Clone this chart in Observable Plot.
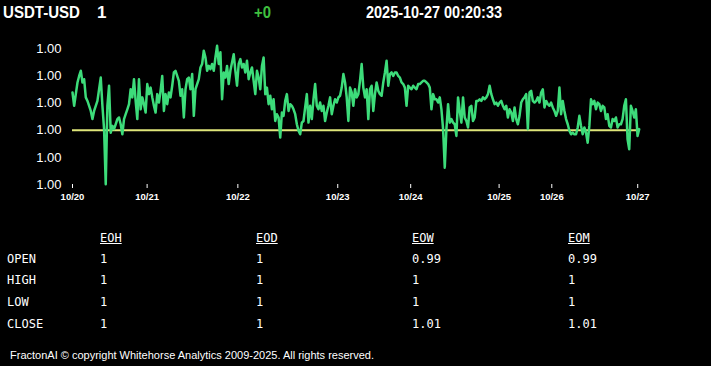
<!DOCTYPE html>
<html><head><meta charset="utf-8">
<script src="https://cdn.jsdelivr.net/npm/d3@7"></script>
<script src="https://cdn.jsdelivr.net/npm/@observablehq/plot@0.6"></script>
<style>
html,body{margin:0;padding:0;background:#000;}
#root{position:relative;width:711px;height:366px;overflow:hidden;background:#000;color:#fff;}
.t{position:absolute;white-space:pre;line-height:1;transform-origin:0 50%;}
.hdr{font-family:"Liberation Sans Narrow","Arial Narrow","Liberation Sans",Arial,sans-serif;font-weight:bold;font-size:17px;}
.mono{font-family:"DejaVu Sans Mono","Liberation Mono",monospace;font-size:12px;}
.foot{font-family:"Liberation Sans",Arial,sans-serif;font-size:10.5px;}
#chart{position:absolute;left:0;top:30px;}
</style></head>
<body><div id="root"><div id="chart"></div></div>
<script>
// ---- data ----
const symbol = "USDT-USD";
const lastPrice = "1";
const change = "+0";
const stamp = "2025-10-27 00:20:33";
const refLevel = 1.0;
const yTicks = [0.9998, 0.9999, 1.0, 1.0001, 1.0002, 1.0003];
const tickIdx = [0, 44.9, 99.5, 159.6, 203.5, 256.7, 288.4, 340.1];
const tickLabels = ["10/20","10/21","10/22","10/23","10/24","10/25","10/26","10/27"];
const price = [
1.000139,1.00009,1.000133,1.000176,1.0002,1.000219,1.000176,1.000188,1.000121,1.000108,
1.00009,1.000071,1.000041,1.000071,1.00009,1.000108,1.000151,1.000194,1.00009,1.000004,
0.999801,1.00009,1.000164,0.999991,1.000016,1.000004,1.000022,1.000041,1.000047,1.000022,
0.999985,1.000041,1.000059,1.000077,1.000096,1.000151,1.000121,1.000188,1.000108,1.000041,
1.000188,1.000077,1.000121,1.000096,1.000065,1.00017,1.000133,1.000157,1.000121,1.00009,
1.000065,1.000133,1.000102,1.000145,1.0002,1.000071,1.000133,1.000096,1.000139,1.000121,
1.000164,1.000213,1.000219,1.0002,1.000182,1.000127,1.000151,1.000047,1.000151,
1.000188,1.000194,1.000151,1.000207,1.000053,1.000151,1.00017,1.000188,1.000231,1.000244,
1.000293,1.000268,1.000219,1.000237,1.000225,1.000244,1.000219,1.000268,1.000311,1.000244,
1.000287,1.000114,1.000213,1.000194,1.000237,1.00017,1.000219,1.00025,1.00028,1.000219,
1.000164,1.000244,1.000262,1.000231,1.000244,1.000213,1.000256,1.000188,1.000213,1.000231,
1.000182,1.000133,1.000219,1.000194,1.000151,1.000237,1.000268,1.000133,1.000157,1.000096,
1.000127,1.000077,1.000114,1.000034,1.000059,1.000047,0.999973,1.000065,1.000053,1.000108,
1.000133,1.000071,1.000096,1.00009,1.000077,1.000059,1.000022,0.999998,0.999985,1.000028,
1.000034,1.000084,1.000133,1.000028,1.00009,1.000041,1.000114,1.00017,1.00009,1.000077,
1.000102,1.000071,1.00009,1.000034,1.000065,1.00009,1.000121,1.000059,1.00009,1.000114,
1.000102,1.000121,1.000127,1.000157,1.000207,1.000176,1.000121,1.000034,1.000157,1.000139,
1.00009,1.000151,1.000121,1.000133,1.000182,1.000244,1.000157,1.000121,1.000151,1.000041,
1.000151,1.000164,1.000071,1.000133,1.000176,1.000145,1.000133,1.000127,1.000176,1.000213,
1.000256,1.000164,1.000207,1.000213,1.0002,1.000213,1.000213,1.0002,1.000194,1.000176,
1.00017,1.000157,1.00009,1.000164,1.000157,1.000151,1.000164,1.000157,1.000151,
1.00017,1.00017,1.000176,1.000182,1.000182,1.000176,1.00017,1.000157,1.000077,1.000133,
1.000114,1.000114,1.000102,1.000121,1.000077,1.000004,0.999862,1.000004,1.000096,1.000028,
1.000041,1.000028,1.000022,0.999979,1.000121,1.000071,1.000028,1.000121,1.000047,1.000034,
1.00001,1.000084,1.00009,1.000034,1.000047,1.000108,1.000108,1.000114,1.000108,1.000121,
1.000114,1.000121,1.000133,1.000164,1.000133,1.000114,1.000096,1.000102,1.00009,1.000102,
1.000108,1.00009,1.000077,1.00009,1.000047,1.000077,1.000065,1.000034,1.000084,1.000041,
1.000022,1.000053,1.000102,1.000114,1.000121,1.000133,1.000004,1.000139,1.000145,1.000108,
1.000102,1.000108,1.000121,1.000102,1.000139,1.000151,1.000084,1.000108,1.000096,1.00009,
1.000102,1.000084,1.000071,1.000053,1.000071,1.000157,1.000059,1.000108,1.000071,1.000041,
1.000022,0.999998,0.999985,0.999991,0.999985,0.999985,1.00001,1.000053,1.000016,0.999985,
1.00001,0.999991,0.999954,1.000016,1.000114,1.000096,1.000108,1.000077,1.000102,1.000096,
1.000071,1.00009,1.000084,1.000041,1.000059,1.000016,1.00001,1.000041,1.000034,1.000047,
1.00001,1.000022,1.000022,1.000041,1.00009,1.000114,0.999967,0.99993,1.00009,1.000071,
1.000047,1.000077,0.999979,1.000004
];
const colHeads = ["EOH","EOD","EOW","EOM"];
const rowLabels = ["OPEN","HIGH","LOW","CLOSE"];
const eoh = ["1","1","1","1"];
const eod = ["1","1","1","1"];
const eow = ["0.99","1","1","1.01"];
const eom = ["0.99","1","1","1.01"];
const footer = "FractonAI \u00A9 copyright Whitehorse Analytics 2009-2025. All rights reserved.";

// ---- layout helpers ----
const root = document.getElementById("root");
function txt(s, x, baseline, cls, fs, extra, fitWidth) {
  const e = document.createElement("div");
  e.className = "t " + cls;
  e.textContent = s;
  e.style.left = x + "px";
  e.style.top = (baseline - 0.85 * fs) + "px";
  if (extra) Object.assign(e.style, extra);
  root.appendChild(e);
  if (fitWidth) {
    const w = e.getBoundingClientRect().width;
    if (w > 0) e.style.transform = "scaleX(" + (fitWidth / w) + ")";
  }
  return e;
}
// header
txt(symbol, 3, 18, "hdr", 17, null, 77);
txt(lastPrice, 97, 18, "hdr", 17);
txt(change, 254, 18, "hdr", 17, {color: "#3fbf3f"}, 17);
txt(stamp, 366, 18, "hdr", 17, null, 136);

// chart
const data = price.map((v, i) => ({i, v}));
const n = price.length - 1;
const chart = Plot.plot({
  width: 711, height: 180,
  marginLeft: 72, marginRight: 72.3, marginTop: 18.3, marginBottom: 26,
  style: {background: "transparent", color: "#fff", fontFamily: "'Liberation Sans', Arial, sans-serif"},
  x: {domain: [0, n], axis: null},
  y: {domain: [0.9998, 1.0003], axis: null},
  marks: [
    Plot.ruleY([refLevel], {stroke: "#dfe67a", strokeWidth: 2}),
    Plot.lineY(data, {x: "i", y: "v", stroke: "#3ddc7a", strokeWidth: 2.5}),
    Plot.axisY(yTicks, {label: null, tickSize: 0, tickPadding: 11, tickFormat: d => d.toFixed(2), fontSize: 13, fill: "#fff"}),
    Plot.axisX(tickIdx, {label: null, tickSize: 4, tickPadding: 5, stroke: "#fff", fill: "#fff",
      tickFormat: d => tickLabels[tickIdx.indexOf(d)], fontSize: 9.5, fontWeight: "bold"})
  ]
});
document.getElementById("chart").appendChild(chart);

// table
const colX = [100, 256, 412, 568];
const cols = [eoh, eod, eow, eom];
const rowBase = [263, 284.5, 306.5, 328.5];
colHeads.forEach((h, j) => txt(h, colX[j], 242, "mono", 12, {textDecoration: "underline"}));
rowLabels.forEach((r, i) => {
  txt(r, 7, rowBase[i], "mono", 12);
  cols.forEach((c, j) => txt(c[i], colX[j], rowBase[i], "mono", 12));
});
// footer
txt(footer, 10, 358.5, "foot", 10.5, null, 364);
</script></body></html>
